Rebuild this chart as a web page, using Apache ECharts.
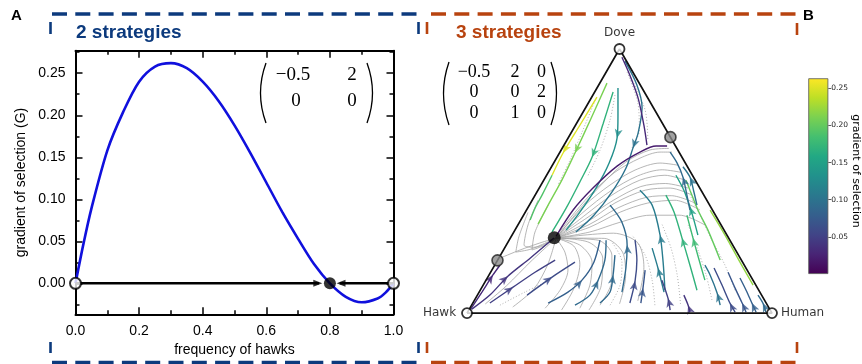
<!DOCTYPE html>
<html>
<head>
<meta charset="utf-8">
<script src="https://cdn.jsdelivr.net/npm/echarts@6/dist/echarts.min.js"></script>
<style>
  html, body { margin: 0; padding: 0; background: #fff; }
  #chart { width: 862px; height: 364px; }
</style>
</head>
<body>
<div id="chart"></div>
<script>
// ---- panel A: 2 strategies ----
const hawkFreq = [0, 0.025, 0.05, 0.1, 0.15, 0.2, 0.25, 0.3, 0.35, 0.4, 0.45, 0.5, 0.55, 0.6, 0.65, 0.7, 0.75, 0.8, 0.85, 0.9, 0.95, 0.975, 1];
const gradientG = [0, 0.047, 0.089, 0.158, 0.204, 0.240, 0.258, 0.262, 0.256, 0.240, 0.217, 0.188, 0.155, 0.120, 0.085, 0.053, 0.023, 0, -0.016, -0.0225, -0.018, -0.011, 0];
const yMajorTicks = [0, 0.05, 0.1, 0.15, 0.2, 0.25];
const yMinorTicks = [-0.025, 0.025, 0.075, 0.125, 0.175, 0.225, 0.275];
const unstableEq = [0, 1];
const stableEq = [0.8];
const flowArrowTips = [0.776, 0.821];

// ---- panel B: 3 strategies (simplex x/y coords, Hawk=(0,0), Human=(1,0), Dove=(0.5,0.866)) ----
const vertexNames = ['Hawk', 'Human', 'Dove'];
const vertexPts = [[0, 0], [1, 0], [0.5, 0.866]];
const saddlePts = [[0.1, 0.173], [0.667, 0.577]];
const interiorPt = [[0.286, 0.247]];

// colored streamlines: g = gradient of selection, arrow = index of arrow head
const streamColored = [
  { g: 0.25, arrow: 2, pts: [[0.426, 0.708], [0.370, 0.616], [0.315, 0.525], [0.279, 0.452]] },
  { g: 0.19, pts: [[0.279, 0.452], [0.246, 0.387], [0.223, 0.344], [0.207, 0.305]] },
  { g: 0.21, arrow: 2, pts: [[0.459, 0.754], [0.407, 0.639], [0.354, 0.525], [0.311, 0.436], [0.266, 0.354], [0.233, 0.292]] },
  { g: 0.17, arrow: 2, pts: [[0.479, 0.725], [0.446, 0.620], [0.410, 0.511], [0.370, 0.430], [0.325, 0.344], [0.279, 0.266]] },
  { g: 0.13, arrow: 2, pts: [[0.495, 0.738], [0.495, 0.649], [0.492, 0.574], [0.466, 0.492], [0.423, 0.410], [0.370, 0.331], [0.325, 0.272]] },
  { g: 0.10, arrow: 4, pts: [[0.518, 0.826], [0.557, 0.748], [0.574, 0.675], [0.561, 0.590], [0.544, 0.541], [0.521, 0.475], [0.475, 0.397], [0.416, 0.321], [0.357, 0.266]] },
  { g: 0.03, pts: [[0.508, 0.839], [0.534, 0.780], [0.561, 0.705], [0.580, 0.616], [0.590, 0.551]] },
  { g: 0.02, pts: [[0.656, 0.548], [0.620, 0.548], [0.567, 0.528], [0.492, 0.482], [0.413, 0.410], [0.348, 0.338], [0.292, 0.252]] },
  { g: 0.03, arrow: 2, pts: [[0.010, 0.010], [0.049, 0.069], [0.085, 0.125], [0.108, 0.157]] },
  { g: 0.04, arrow: 2, pts: [[0.016, 0.013], [0.075, 0.059], [0.134, 0.121], [0.207, 0.180], [0.285, 0.246]] },
  { g: 0.05, arrow: 1, pts: [[0.075, 0.033], [0.151, 0.085], [0.223, 0.134], [0.289, 0.174]] },
  { g: 0.06, arrow: 1, pts: [[0.197, 0.059], [0.279, 0.118], [0.354, 0.167]] },
  { g: 0.08, arrow: 2, pts: [[0.266, 0.033], [0.331, 0.069], [0.377, 0.108], [0.416, 0.167], [0.436, 0.239]] },
  { g: 0.09, arrow: 2, pts: [[0.354, 0.026], [0.403, 0.059], [0.430, 0.108], [0.452, 0.174], [0.456, 0.239]] },
  { g: 0.09, arrow: 2, pts: [[0.436, 0.033], [0.469, 0.069], [0.479, 0.125], [0.485, 0.190]] },
  { g: 0.09, arrow: 2, pts: [[0.508, 0.069], [0.521, 0.148], [0.525, 0.223], [0.508, 0.298], [0.469, 0.354]] },
  { g: 0.06, arrow: 1, pts: [[0.534, 0.033], [0.551, 0.105], [0.557, 0.174], [0.551, 0.239]] },
  { g: 0.07, arrow: 1, pts: [[0.570, 0.033], [0.577, 0.082], [0.584, 0.141]] },
  { g: 0.11, arrow: 2, pts: [[0.649, 0.075], [0.643, 0.167], [0.633, 0.256], [0.607, 0.354], [0.567, 0.403]] },
  { g: 0.11, arrow: 1, pts: [[0.646, 0.069], [0.626, 0.148], [0.607, 0.213]] },
  { g: 0.05, arrow: 1, pts: [[0.666, 0.010], [0.659, 0.049], [0.639, 0.108]] },
  { g: 0.04, arrow: 1, pts: [[0.731, 0.003], [0.725, 0.026], [0.711, 0.059]] },
  { g: 0.17, arrow: 2, pts: [[0.754, 0.075], [0.731, 0.157], [0.705, 0.246], [0.679, 0.331], [0.652, 0.387]] },
  { g: 0.18, arrow: 2, pts: [[0.780, 0.108], [0.761, 0.174], [0.741, 0.246], [0.721, 0.321]] },
  { g: 0.15, arrow: 2, pts: [[0.757, 0.256], [0.744, 0.305], [0.731, 0.348], [0.711, 0.403], [0.685, 0.452]] },
  { g: 0.20, pts: [[0.830, 0.174], [0.790, 0.272], [0.757, 0.338], [0.731, 0.403], [0.718, 0.436]] },
  { g: 0.10, arrow: 1, pts: [[0.830, 0.026], [0.820, 0.066], [0.797, 0.125], [0.780, 0.157]] },
  { g: 0.06, arrow: 1, pts: [[0.879, 0.003], [0.862, 0.033], [0.836, 0.092], [0.810, 0.148]] },
  { g: 0.07, arrow: 1, pts: [[0.915, 0.003], [0.902, 0.033], [0.879, 0.082], [0.856, 0.134]] },
  { g: 0.08, arrow: 1, pts: [[0.948, 0.003], [0.934, 0.033], [0.915, 0.075], [0.895, 0.115]] },
  { g: 0.09, arrow: 1, pts: [[0.980, 0.003], [0.970, 0.033], [0.954, 0.059]] },
  { g: 0.09, arrow: 2, pts: [[0.731, 0.338], [0.721, 0.387], [0.708, 0.446], [0.689, 0.492], [0.666, 0.528]] },
  { g: 0.10, arrow: 2, pts: [[0.754, 0.354], [0.744, 0.397], [0.731, 0.446], [0.708, 0.480]] },
  { g: 0.22, pts: [[0.938, 0.092], [0.895, 0.167], [0.846, 0.256], [0.797, 0.338]] }
];

const streamGrey = [
  [[0.672, 0.528], [0.633, 0.528], [0.567, 0.508], [0.485, 0.462], [0.403, 0.387], [0.338, 0.311], [0.289, 0.246]],
  [[0.662, 0.540], [0.600, 0.535], [0.520, 0.495], [0.440, 0.420], [0.360, 0.330], [0.292, 0.246]],
  [[0.692, 0.485], [0.633, 0.492], [0.551, 0.469], [0.469, 0.420], [0.387, 0.354], [0.292, 0.246]],
  [[0.700, 0.462], [0.640, 0.470], [0.560, 0.450], [0.470, 0.400], [0.380, 0.330], [0.292, 0.246]],
  [[0.715, 0.436], [0.649, 0.452], [0.567, 0.436], [0.475, 0.387], [0.387, 0.321], [0.292, 0.246]],
  [[0.725, 0.410], [0.650, 0.425], [0.570, 0.415], [0.480, 0.370], [0.390, 0.310], [0.292, 0.246]],
  [[0.738, 0.387], [0.666, 0.410], [0.584, 0.403], [0.485, 0.361], [0.393, 0.298], [0.292, 0.246]],
  [[0.750, 0.360], [0.670, 0.385], [0.590, 0.380], [0.495, 0.345], [0.400, 0.290], [0.292, 0.246]],
  [[0.764, 0.338], [0.682, 0.370], [0.593, 0.361], [0.502, 0.331], [0.403, 0.282], [0.292, 0.246]],
  [[0.780, 0.289], [0.698, 0.321], [0.600, 0.321], [0.502, 0.298], [0.403, 0.266], [0.292, 0.246]],
  [[0.256, 0.016], [0.305, 0.075], [0.331, 0.141], [0.321, 0.200], [0.292, 0.246]],
  [[0.310, 0.010], [0.350, 0.080], [0.370, 0.160], [0.350, 0.220], [0.292, 0.246]],
  [[0.370, 0.016], [0.403, 0.092], [0.410, 0.167], [0.370, 0.223], [0.292, 0.246]],
  [[0.400, 0.010], [0.440, 0.090], [0.445, 0.180], [0.400, 0.232], [0.292, 0.246]],
  [[0.436, 0.026], [0.475, 0.108], [0.475, 0.190], [0.430, 0.239], [0.292, 0.246]],
  [[0.500, 0.030], [0.520, 0.120], [0.510, 0.200], [0.450, 0.245], [0.292, 0.246]],
  [[0.560, 0.040], [0.580, 0.150], [0.560, 0.230], [0.480, 0.262], [0.292, 0.246]],
  [[0.233, 0.370], [0.200, 0.289], [0.187, 0.223], [0.223, 0.216], [0.292, 0.246]],
  [[0.266, 0.354], [0.223, 0.266], [0.213, 0.207], [0.256, 0.223], [0.292, 0.246]],
  [[0.200, 0.330], [0.170, 0.250], [0.160, 0.200], [0.210, 0.210], [0.292, 0.246]],
  [[0.108, 0.180], [0.174, 0.207], [0.239, 0.230], [0.292, 0.246]],
  [[0.060, 0.030], [0.130, 0.090], [0.210, 0.170], [0.292, 0.246]],
  [[0.150, 0.020], [0.220, 0.080], [0.265, 0.160], [0.292, 0.246]]
];

const streamDotted = [
  [[0.420, 0.698], [0.380, 0.600], [0.338, 0.502], [0.298, 0.420]],
  [[0.485, 0.715], [0.469, 0.633], [0.436, 0.534], [0.397, 0.452]],
  [[0.534, 0.780], [0.584, 0.666], [0.593, 0.567]],
  [[0.525, 0.790], [0.560, 0.690], [0.565, 0.600], [0.540, 0.540]],
  [[0.879, 0.075], [0.846, 0.157], [0.803, 0.239], [0.764, 0.321], [0.731, 0.387]],
  [[0.803, 0.043], [0.784, 0.125], [0.757, 0.207], [0.725, 0.289]],
  [[0.700, 0.030], [0.690, 0.120], [0.670, 0.210], [0.640, 0.290]],
  [[0.616, 0.026], [0.607, 0.108], [0.584, 0.190], [0.541, 0.256]],
  [[0.469, 0.026], [0.502, 0.092], [0.508, 0.167], [0.475, 0.233]],
  [[0.108, 0.026], [0.190, 0.069], [0.272, 0.108]]
];

const cbarTicks = [0.05, 0.1, 0.15, 0.2, 0.25];
const cbarRange = [0, 0.2634];

// viridis colormap
const viridisStops = ['#440154', '#482475', '#414487', '#355f8d', '#2a788e', '#21918c', '#22a884', '#44bf70', '#7ad151', '#bddf26', '#fde725'];
function hexRgb(h) { return [1, 3, 5].map(i => parseInt(h.substr(i, 2), 16)); }
function viridis(v) {
  let t = (v - cbarRange[0]) / (cbarRange[1] - cbarRange[0]);
  t = Math.max(0, Math.min(1, t));
  const p = t * (viridisStops.length - 1);
  const i = Math.min(Math.floor(p), viridisStops.length - 2);
  const f = p - i;
  const a = hexRgb(viridisStops[i]), b = hexRgb(viridisStops[i + 1]);
  return 'rgb(' + a.map((c, k) => Math.round(c + (b[k] - c) * f)).join(',') + ')';
}

const chart = echarts.init(document.getElementById('chart'));
const sans = 'Liberation Sans, Arial, sans-serif';
const mpl = 'DejaVu Sans, sans-serif';
const serif = 'Liberation Serif, serif';
const blue = '#0c3a7d';
const orange = '#b8430f';

const series = [];

// panel A
series.push({
  type: 'line', xAxisIndex: 0, yAxisIndex: 0, z: 2,
  data: hawkFreq.map((x, i) => [x, gradientG[i]]),
  showSymbol: false, smooth: 0.3, silent: true,
  lineStyle: { color: '#1010dd', width: 2.6 }
});
series.push({
  type: 'line', xAxisIndex: 0, yAxisIndex: 0, z: 3, silent: true, showSymbol: false,
  data: [[unstableEq[0], 0], [flowArrowTips[0] - 0.01, 0]],
  lineStyle: { color: '#000', width: 2.5 }
});
series.push({
  type: 'line', xAxisIndex: 0, yAxisIndex: 0, z: 3, silent: true, showSymbol: false,
  data: [[unstableEq[1], 0], [flowArrowTips[1] + 0.01, 0]],
  lineStyle: { color: '#000', width: 2.5 }
});
series.push({
  type: 'scatter', xAxisIndex: 0, yAxisIndex: 0, z: 4, silent: true,
  symbol: 'triangle', symbolSize: [7, 9],
  itemStyle: { color: '#000' },
  data: [
    { value: [flowArrowTips[0] - 0.014, 0], symbolRotate: -90 },
    { value: [flowArrowTips[1] + 0.014, 0], symbolRotate: 90 }
  ]
});
series.push({
  type: 'scatter', xAxisIndex: 0, yAxisIndex: 0, z: 5, silent: true,
  symbolSize: 11, itemStyle: { color: '#fff', borderColor: '#000', borderWidth: 2 },
  data: unstableEq.map(x => [x, 0])
});
series.push({
  type: 'scatter', xAxisIndex: 0, yAxisIndex: 0, z: 5, silent: true,
  symbolSize: 12, itemStyle: { color: '#000' },
  data: stableEq.map(x => [x, 0])
});

// panel B
streamDotted.forEach(pts => series.push({
  type: 'line', xAxisIndex: 2, yAxisIndex: 4, z: 1, silent: true, showSymbol: false, smooth: 0.3,
  data: pts, lineStyle: { color: '#a6a6a6', width: 0.9, type: [1, 2] }
}));
streamGrey.forEach(pts => series.push({
  type: 'line', xAxisIndex: 2, yAxisIndex: 4, z: 1, silent: true, showSymbol: false, smooth: 0.3,
  data: pts, lineStyle: { color: '#a3a3a3', width: 0.8 }
}));
const arrowItems = [];
streamColored.forEach(s => {
  const col = viridis(s.g);
  series.push({
    type: 'line', xAxisIndex: 2, yAxisIndex: 4, z: 3, silent: true, showSymbol: false, smooth: 0.3,
    data: s.pts, lineStyle: { color: col, width: 1.4 }
  });
  if (s.arrow != null) {
    const i = s.arrow;
    const a = s.pts[Math.max(i - 1, 0)], b = s.pts[Math.min(i + 1, s.pts.length - 1)];
    const ang = Math.atan2(b[1] - a[1], b[0] - a[0]) * 180 / Math.PI;
    arrowItems.push({ value: s.pts[i], symbolRotate: ang - 90, itemStyle: { color: col } });
  }
});
series.push({
  type: 'scatter', xAxisIndex: 2, yAxisIndex: 4, z: 4, silent: true,
  symbol: 'arrow', symbolSize: [6, 9], data: arrowItems
});
series.push({
  type: 'line', xAxisIndex: 2, yAxisIndex: 4, z: 5, silent: true, showSymbol: false,
  data: [vertexPts[0], vertexPts[1], vertexPts[2], vertexPts[0]],
  lineStyle: { color: '#111', width: 1.7 }
});
series.push({
  type: 'scatter', xAxisIndex: 2, yAxisIndex: 4, z: 6, silent: true,
  symbolSize: 10, itemStyle: { color: '#fff', borderColor: '#000', borderWidth: 1.8 },
  label: { show: true, formatter: '{b}', color: '#000', fontFamily: mpl, fontSize: 12 },
  data: vertexPts.map((p, i) => ({
    value: p, name: vertexNames[i],
    label: { position: ['left', 'right', 'top'][i], distance: [5, 3, 4][i] }
  }))
});
series.push({
  type: 'scatter', xAxisIndex: 2, yAxisIndex: 4, z: 6, silent: true,
  symbolSize: 11, itemStyle: { color: '#8a8a8a', borderColor: '#222', borderWidth: 1.6 },
  data: saddlePts
});
series.push({
  type: 'scatter', xAxisIndex: 2, yAxisIndex: 4, z: 6, silent: true,
  symbolSize: 13, itemStyle: { color: '#000' },
  data: interiorPt
});

// colorbar
series.push({
  type: 'bar', xAxisIndex: 3, yAxisIndex: 5, silent: true, barWidth: '100%',
  data: [cbarRange[1]],
  itemStyle: {
    borderColor: '#555', borderWidth: 0.8,
    color: new echarts.graphic.LinearGradient(0, 1, 0, 0,
      viridisStops.map((c, i) => ({ offset: i / (viridisStops.length - 1), color: c })))
  }
});

const frameLine = { show: true, onZero: false, lineStyle: { color: '#000', width: 2 } };
const noLine = { show: false, onZero: false };
const tickStyle = { color: '#000', width: 1.5 };
const hidden = { show: false };

const option = {
  animation: false,
  backgroundColor: '#fff',
  textStyle: { fontFamily: sans },
  grid: [
    { left: 75.5, top: 50.7, width: 318, height: 263.6 },
    { left: 467, top: 49, width: 305, height: 264.1 },
    { left: 808.3, top: 78.3, width: 20, height: 195.7 }
  ],
  xAxis: [
    {
      gridIndex: 0, type: 'value', position: 'bottom', min: 0, max: 1, interval: 0.2,
      axisLine: frameLine, splitLine: hidden,
      axisTick: { inside: true, length: 7, lineStyle: tickStyle },
      minorTick: { show: true, splitNumber: 2, length: 4, lineStyle: tickStyle },
      axisLabel: { color: '#000', fontSize: 14, margin: 10, formatter: v => v.toFixed(1) },
      name: 'frequency of hawks', nameLocation: 'middle', nameGap: 28,
      nameTextStyle: { color: '#000', fontSize: 14 }
    },
    {
      gridIndex: 0, type: 'value', position: 'top', min: 0, max: 1, interval: 0.2,
      axisLine: frameLine, splitLine: hidden,
      axisTick: { inside: true, length: 7, lineStyle: tickStyle },
      minorTick: { show: true, splitNumber: 2, length: 4, lineStyle: tickStyle },
      axisLabel: hidden
    },
    { gridIndex: 1, type: 'value', min: 0, max: 1, show: false },
    { gridIndex: 2, type: 'category', data: [''], show: false }
  ],
  yAxis: [
    {
      gridIndex: 0, type: 'value', position: 'left', min: -0.0368, max: 0.2768,
      axisLine: frameLine, splitLine: hidden,
      axisTick: { inside: true, length: 7, lineStyle: tickStyle, customValues: yMajorTicks },
      axisLabel: { color: '#000', fontSize: 14, margin: 10, customValues: yMajorTicks, formatter: v => v.toFixed(2) },
      name: 'gradient of selection (G)', nameLocation: 'middle', nameGap: 47,
      nameTextStyle: { color: '#000', fontSize: 14 }
    },
    {
      gridIndex: 0, type: 'value', position: 'left', min: -0.0368, max: 0.2768,
      axisLine: noLine, splitLine: hidden,
      axisTick: { inside: true, length: 4, lineStyle: tickStyle, customValues: yMinorTicks },
      axisLabel: { show: false, customValues: yMinorTicks }
    },
    {
      gridIndex: 0, type: 'value', position: 'right', min: -0.0368, max: 0.2768,
      axisLine: frameLine, splitLine: hidden,
      axisTick: { inside: true, length: 7, lineStyle: tickStyle, customValues: yMajorTicks },
      axisLabel: { show: false, customValues: yMajorTicks }
    },
    {
      gridIndex: 0, type: 'value', position: 'right', min: -0.0368, max: 0.2768,
      axisLine: noLine, splitLine: hidden,
      axisTick: { inside: true, length: 4, lineStyle: tickStyle, customValues: yMinorTicks },
      axisLabel: { show: false, customValues: yMinorTicks }
    },
    { gridIndex: 1, type: 'value', min: 0, max: 0.866, show: false },
    {
      gridIndex: 2, type: 'value', position: 'right', min: cbarRange[0], max: cbarRange[1],
      axisLine: noLine, splitLine: hidden,
      axisTick: { show: true, length: 3, lineStyle: { color: '#333', width: 0.8 }, customValues: cbarTicks },
      axisLabel: { color: '#222', fontSize: 7.5, fontFamily: mpl, margin: 3, customValues: cbarTicks, formatter: v => v.toFixed(2) }
    }
  ],
  series: series,
  graphic: [
    // panel letters and titles
    { type: 'text', x: 11, y: 8, style: { text: 'A', font: 'bold 15px ' + sans, fill: '#000' } },
    { type: 'text', x: 803, y: 8, style: { text: 'B', font: 'bold 15px ' + sans, fill: '#000' } },
    { type: 'text', x: 76, y: 33, style: { text: '2 strategies', font: 'bold 19px ' + sans, fill: blue, verticalAlign: 'middle' } },
    { type: 'text', x: 456, y: 33, style: { text: '3 strategies', font: 'bold 19px ' + sans, fill: orange, verticalAlign: 'middle' } },
    // dashed brackets
    { type: 'line', shape: { x1: 52, y1: 14, x2: 418, y2: 14 }, style: { stroke: blue, lineWidth: 3.4, lineDash: [15, 8.3] } },
    { type: 'line', shape: { x1: 431, y1: 14, x2: 797, y2: 14 }, style: { stroke: orange, lineWidth: 3.4, lineDash: [15, 8.3] } },
    { type: 'line', shape: { x1: 52, y1: 362.5, x2: 418, y2: 362.5 }, style: { stroke: blue, lineWidth: 3.4, lineDash: [15, 8.3] } },
    { type: 'line', shape: { x1: 431, y1: 362.5, x2: 797, y2: 362.5 }, style: { stroke: orange, lineWidth: 3.4, lineDash: [15, 8.3] } },
    { type: 'line', shape: { x1: 50.5, y1: 22, x2: 50.5, y2: 34 }, style: { stroke: blue, lineWidth: 2.6 } },
    { type: 'line', shape: { x1: 418.5, y1: 22, x2: 418.5, y2: 34 }, style: { stroke: blue, lineWidth: 2.6 } },
    { type: 'line', shape: { x1: 427, y1: 22, x2: 427, y2: 34 }, style: { stroke: orange, lineWidth: 2.6 } },
    { type: 'line', shape: { x1: 797, y1: 23, x2: 797, y2: 35 }, style: { stroke: orange, lineWidth: 2.6 } },
    { type: 'line', shape: { x1: 50.5, y1: 342, x2: 50.5, y2: 353 }, style: { stroke: blue, lineWidth: 2.6 } },
    { type: 'line', shape: { x1: 418.5, y1: 342, x2: 418.5, y2: 353 }, style: { stroke: blue, lineWidth: 2.6 } },
    { type: 'line', shape: { x1: 427, y1: 342, x2: 427, y2: 353 }, style: { stroke: orange, lineWidth: 2.6 } },
    { type: 'line', shape: { x1: 797, y1: 342, x2: 797, y2: 353 }, style: { stroke: orange, lineWidth: 2.6 } },
    // matrix A
    { type: 'bezierCurve', shape: { x1: 266, y1: 63, x2: 266, y2: 123, cpx1: 255, cpy1: 93 }, style: { stroke: '#000', lineWidth: 1.3, fill: null } },
    { type: 'bezierCurve', shape: { x1: 367, y1: 63, x2: 367, y2: 123, cpx1: 378, cpy1: 93 }, style: { stroke: '#000', lineWidth: 1.3, fill: null } },
    { type: 'text', x: 293, y: 75, style: { text: '\u22120.5', font: '19px ' + serif, fill: '#000', align: 'center', verticalAlign: 'middle' } },
    { type: 'text', x: 352, y: 75, style: { text: '2', font: '19px ' + serif, fill: '#000', align: 'center', verticalAlign: 'middle' } },
    { type: 'text', x: 296, y: 101, style: { text: '0', font: '19px ' + serif, fill: '#000', align: 'center', verticalAlign: 'middle' } },
    { type: 'text', x: 352, y: 101, style: { text: '0', font: '19px ' + serif, fill: '#000', align: 'center', verticalAlign: 'middle' } },
    // matrix B
    { type: 'bezierCurve', shape: { x1: 449, y1: 62, x2: 449, y2: 125, cpx1: 438, cpy1: 93.5 }, style: { stroke: '#000', lineWidth: 1.3, fill: null } },
    { type: 'bezierCurve', shape: { x1: 551, y1: 62, x2: 551, y2: 125, cpx1: 562, cpy1: 93.5 }, style: { stroke: '#000', lineWidth: 1.3, fill: null } },
    { type: 'text', x: 474, y: 72, style: { text: '\u22120.5', font: '18px ' + serif, fill: '#000', align: 'center', verticalAlign: 'middle' } },
    { type: 'text', x: 515, y: 72, style: { text: '2', font: '18px ' + serif, fill: '#000', align: 'center', verticalAlign: 'middle' } },
    { type: 'text', x: 541.5, y: 72, style: { text: '0', font: '18px ' + serif, fill: '#000', align: 'center', verticalAlign: 'middle' } },
    { type: 'text', x: 474, y: 92.5, style: { text: '0', font: '18px ' + serif, fill: '#000', align: 'center', verticalAlign: 'middle' } },
    { type: 'text', x: 515, y: 92.5, style: { text: '0', font: '18px ' + serif, fill: '#000', align: 'center', verticalAlign: 'middle' } },
    { type: 'text', x: 541.5, y: 92.5, style: { text: '2', font: '18px ' + serif, fill: '#000', align: 'center', verticalAlign: 'middle' } },
    { type: 'text', x: 474, y: 113, style: { text: '0', font: '18px ' + serif, fill: '#000', align: 'center', verticalAlign: 'middle' } },
    { type: 'text', x: 515, y: 113, style: { text: '1', font: '18px ' + serif, fill: '#000', align: 'center', verticalAlign: 'middle' } },
    { type: 'text', x: 541.5, y: 113, style: { text: '0', font: '18px ' + serif, fill: '#000', align: 'center', verticalAlign: 'middle' } },
    // colorbar label
    { type: 'text', x: 856, y: 171, rotation: -Math.PI / 2, style: { text: 'gradient of selection', font: '11px ' + mpl, fill: '#000', align: 'center', verticalAlign: 'middle' } }
  ]
};

chart.setOption(option);
</script>
</body>
</html>
